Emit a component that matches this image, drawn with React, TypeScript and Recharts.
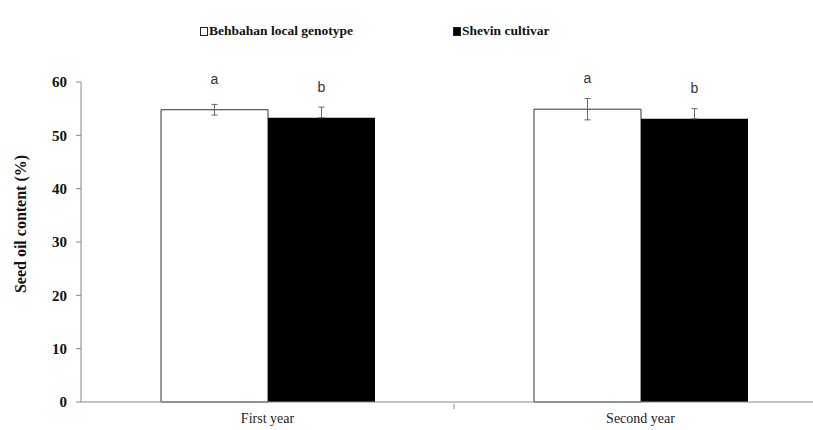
import React from "react";
import { BarChart, Bar, XAxis, YAxis, ErrorBar, LabelList } from "recharts";

const years = ["First year", "Second year"];
const behbahan = [54.8, 54.9];
const behbahanErr = [1.0, 2.0];
const shevin = [53.3, 53.1];
const shevinErr = [2.0, 1.9];
const behbahanLetters = ["a", "a"];
const shevinLetters = ["b", "b"];
const yTicks = [0, 10, 20, 30, 40, 50, 60];

// the lower half of the Shevin error bar is hidden inside the black bar
const data = years.map((year, i) => ({
  year,
  behbahan: behbahan[i],
  behbahanErr: behbahanErr[i],
  shevin: shevin[i],
  shevinErr: [0, shevinErr[i]],
}));

const serif = "'Liberation Serif', 'Times New Roman', serif";

// category label plus a tick mark on the boundary between categories
const YearTick = (props: any) => {
  const { x, y, payload } = props;
  const off = payload.offset ?? 0;
  return (
    <g>
      <line x1={x + off} x2={x + off} y1={y} y2={y + 5} stroke="#888" />
      <text x={x} y={y + 19} textAnchor="middle" fontFamily={serif} fontSize={14} fill="#222">
        {payload.value}
      </text>
    </g>
  );
};

const letterLabel = (letters: string[]) => (props: any) => {
  const { x, y, width, index } = props;
  if (typeof index !== "number") return null;
  return (
    <text
      x={Number(x) + Number(width) / 2}
      y={Number(y) - 31}
      textAnchor="middle"
      dominantBaseline="central"
      fontFamily="'Liberation Sans', Arial, sans-serif"
      fontSize={14}
      fill="#333"
    >
      {letters[index]}
    </text>
  );
};

const legendItem = (label: string, fill: string) => (
  <span style={{ display: "inline-flex", alignItems: "center" }}>
    <span
      style={{
        display: "inline-block",
        width: 6,
        height: 7,
        background: fill,
        border: "1px solid #222",
        marginRight: 1,
      }}
    />
    {label}
  </span>
);

const legendStyle: React.CSSProperties = {
  position: "absolute",
  top: 23,
  fontFamily: serif,
  fontWeight: "bold",
  fontSize: 13.5,
  color: "#111",
  whiteSpace: "nowrap",
};

export default function App() {
  return (
    <div
      style={{
        position: "absolute",
        left: 0,
        top: 0,
        width: 813,
        height: 430,
        overflow: "hidden",
        background: "#fff",
      }}
    >
      <div style={{ ...legendStyle, left: 200 }}>{legendItem("Behbahan local genotype", "#fff")}</div>
      <div style={{ ...legendStyle, left: 453 }}>{legendItem("Shevin cultivar", "#000")}</div>
      <BarChart
        width={830}
        height={430}
        data={data}
        margin={{ top: 82, right: 3, left: 0, bottom: 0 }}
        barCategoryGap={80}
        barGap={0}
      >
        <XAxis
          dataKey="year"
          stroke="#888"
          tickLine={false}
          tickSize={0}
          tick={<YearTick />}
          height={28}
        />
        <YAxis
          domain={[0, 60]}
          ticks={yTicks}
          width={81}
          stroke="#888"
          tickSize={5}
          tickMargin={9}
          tick={{ fontFamily: serif, fontWeight: "bold", fontSize: 15, fill: "#111" }}
          label={() => (
            <text
              x={20}
              y={224}
              transform="rotate(-90, 20, 224)"
              textAnchor="middle"
              dominantBaseline="central"
              fontFamily={serif}
              fontWeight="bold"
              fontSize={16}
              fill="#111"
            >
              Seed oil content (%)
            </text>
          )}
        />
        <Bar dataKey="behbahan" fill="#fff" stroke="#333" strokeWidth={1} isAnimationActive={false}>
          <ErrorBar dataKey="behbahanErr" width={3} stroke="#666" strokeWidth={1} direction="y" />
          <LabelList dataKey="behbahan" content={letterLabel(behbahanLetters)} />
        </Bar>
        <Bar dataKey="shevin" fill="#000" isAnimationActive={false}>
          <ErrorBar dataKey="shevinErr" width={3} stroke="#666" strokeWidth={1} direction="y" />
          <LabelList dataKey="shevin" content={letterLabel(shevinLetters)} />
        </Bar>
      </BarChart>
    </div>
  );
}
